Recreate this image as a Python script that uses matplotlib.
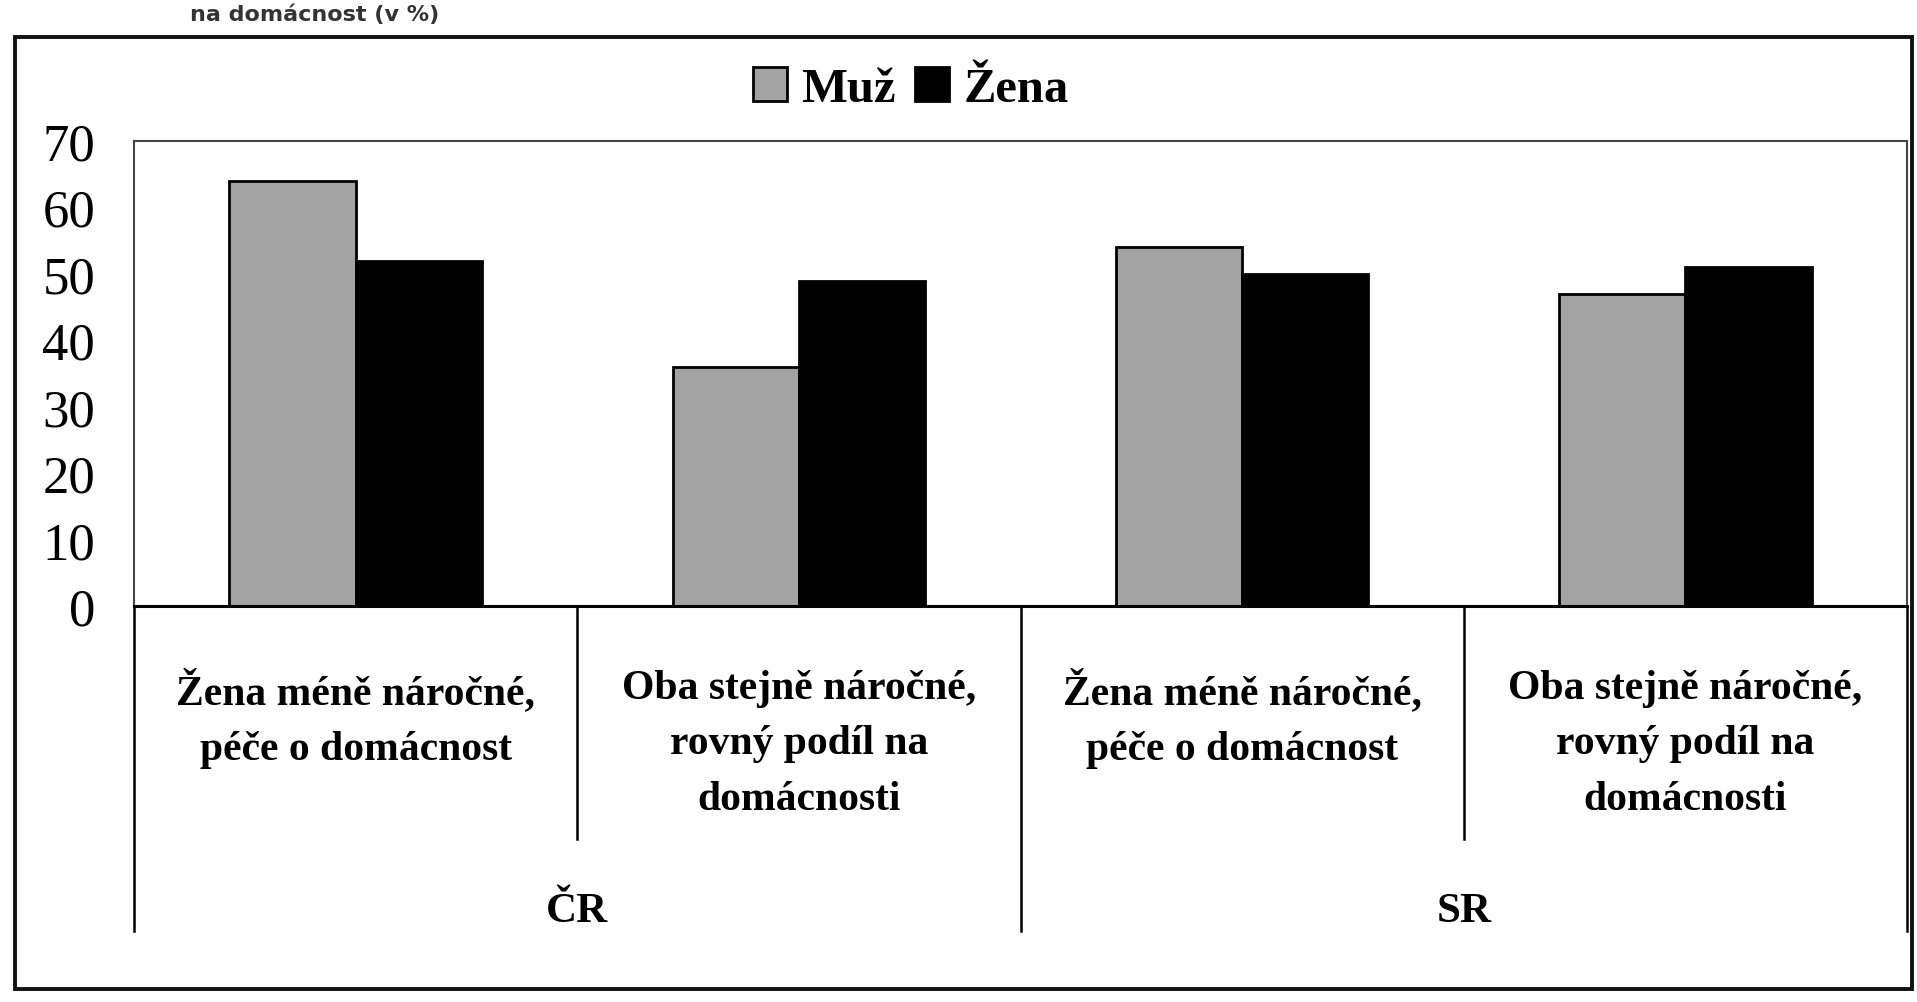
import matplotlib.pyplot as plt
from matplotlib.patches import Rectangle
from matplotlib.transforms import blended_transform_factory

categories = ['Žena méně náročné,\npéče o domácnost',
              'Oba stejně náročné,\nrovný podíl na\ndomácnosti',
              'Žena méně náročné,\npéče o domácnost',
              'Oba stejně náročné,\nrovný podíl na\ndomácnosti']
groups = ['ČR', 'SR']
muz = [64, 36, 54, 47]
zena = [52, 49, 50, 51]
yticks = [0, 10, 20, 30, 40, 50, 60, 70]

plt.rcParams['font.family'] = ['Liberation Serif', 'DejaVu Serif']

W, H = 1917, 1003
fig = plt.figure(figsize=(W / 100, H / 100), dpi=100, facecolor='white')

# outer frame of the chart
fig.patches.append(Rectangle((15 / W, 1 - 990 / H), (1912 - 15) / W, (990 - 38) / H,
                             transform=fig.transFigure, fill=False, ec='#111111', lw=2.8))

# caption line above the frame (cut in the scan)
fig.text(190 / W, 1 - 4 / H, 'na domácnost (v %)', family='DejaVu Sans', weight='bold',
         fontsize=16, color='#333333', va='top')

left, right, top, base = 134, 1907, 142, 607
ax = fig.add_axes([left / W, 1 - base / H, (right - left) / W, (base - top) / H])

x = [i + 0.5 for i in range(len(categories))]
bw = 0.285
ax.bar([v - bw / 2 for v in x], muz, width=bw, color='#a3a3a3', edgecolor='black', lw=2, label='Muž')
ax.bar([v + bw / 2 for v in x], zena, width=bw, color='black', edgecolor='black', lw=2, label='Žena')

ax.set_xlim(0, len(categories))
ax.set_ylim(0, 70)
ax.set_yticks(yticks)
ax.set_xticks([])
ax.tick_params(axis='y', length=0, pad=28, labelsize=38)
for s in ['top', 'right', 'left']:
    ax.spines[s].set_color('#444444')
    ax.spines[s].set_linewidth(1.5)
ax.spines['bottom'].set_linewidth(2.2)

tr = blended_transform_factory(ax.transData, ax.transAxes)
# category dividers (short) and group dividers (long)
for xv in [1, 3]:
    ax.plot([xv, xv], [0, -0.5], color='black', lw=1.8, transform=tr, clip_on=False)
for xv in [0, 2, 4]:
    ax.plot([xv, xv], [0, -0.7], color='black', lw=1.8, transform=tr, clip_on=False)

for xv, lab in zip(x, categories):
    ax.text(xv, -0.135, lab, transform=tr, ha='center', va='top', fontsize=30,
            weight='bold', linespacing=1.6)
for i, g in enumerate(groups):
    ax.text(2 * i + 1, -0.655, g, transform=tr, ha='center', va='center', fontsize=31,
            weight='bold')

handles = [Rectangle((0, 0), 1, 1, fc='#a3a3a3', ec='black', lw=2),
           Rectangle((0, 0), 1, 1, fc='black', ec='black', lw=2)]
fig.legend(handles, ['Muž', 'Žena'], loc='center', bbox_to_anchor=(911 / W, 1 - 90 / H),
           ncol=2, frameon=False, prop={'weight': 'bold', 'size': 35},
           handlelength=0.7, handleheight=0.7, handletextpad=0.3, columnspacing=0.4)

fig.savefig('out.png', dpi=100, facecolor='white')
